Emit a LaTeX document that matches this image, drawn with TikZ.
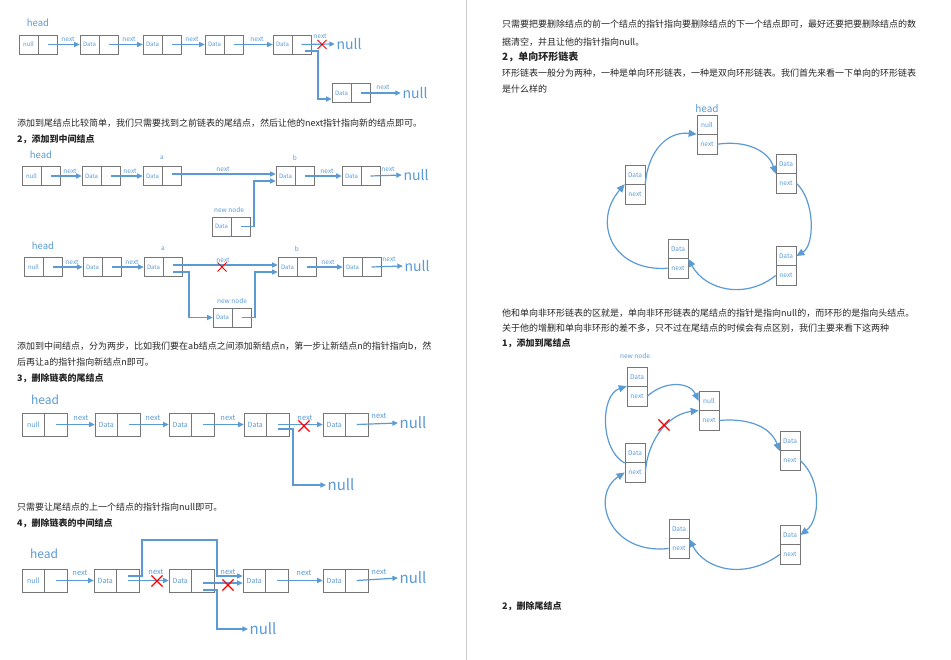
\documentclass[tikz,border=0pt]{standalone}
\usepackage{fontspec}
\setmainfont{Noto Sans CJK SC}
\usetikzlibrary{arrows.meta,shapes.misc}
\definecolor{lblue}{HTML}{5B9BD5}
\definecolor{boxc}{HTML}{767676}
\definecolor{txtc}{HTML}{262626}
\definecolor{xred}{HTML}{FF0000}
\tikzset{
  cs/.style={draw=boxc, line width=0.6pt, minimum width=19pt, minimum height=19pt, inner sep=0pt, text=lblue, font=\fontsize{6}{6}\selectfont},
  cb/.style={draw=boxc, line width=0.6pt, minimum width=22.5pt, minimum height=23pt, inner sep=0pt, text=lblue, font=\fontsize{7}{7}\selectfont},
  cv/.style={draw=boxc, line width=0.6pt, minimum width=20pt, minimum height=19.5pt, inner sep=0pt, text=lblue, font=\fontsize{6.5}{6.5}\selectfont},
  arr/.style={draw=lblue, line width=1.2pt, -{Triangle[length=5.5pt,width=5pt]}},
  arrc/.style={draw=lblue, line width=1.2pt, -{Triangle[length=8pt,width=7pt]}},
  lbl/.style={text=lblue, font=\fontsize{6.5}{6.5}\selectfont, inner sep=0pt},
  lblb/.style={text=lblue, font=\fontsize{7.5}{7.5}\selectfont, inner sep=0pt},
  headS/.style={text=lblue, font=\fontsize{9.5}{9.5}\selectfont, inner sep=0pt},
  headB/.style={text=lblue, font=\fontsize{12}{12}\selectfont, inner sep=0pt},
  nullS/.style={text=lblue, font=\fontsize{14}{14}\selectfont, inner sep=1.5pt},
  nullB/.style={text=lblue, font=\fontsize{15}{15}\selectfont, inner sep=1.5pt},
  body/.style={text=txtc, font=\fontsize{9}{9}\selectfont, anchor=west, inner sep=0pt},
  bodyb/.style={text=txtc, font=\fontsize{9}{9}\selectfont\bfseries, anchor=west, inner sep=0pt},
  xm/.style={draw=xred, cross out, minimum size=8pt, inner sep=0pt, line width=1pt},
  xmb/.style={draw=xred, cross out, minimum size=10pt, inner sep=0pt, line width=1.1pt}
}
\begin{document}
\begin{tikzpicture}[x=1pt,y=-1pt]
\fill[white] (0,0) rectangle (951,660);
\useasboundingbox (0,0) rectangle (951,660);
\draw[gray!40, line width=0.8pt] (466,0) -- (466,660);

% ---------- Diagram 1 ----------
\node[headS] (h1) at (38,23) {head};
\node[cs] (a1l) at (28.5,44.5) {null}; \node[cs] (a1r) at (47.5,44.5) {};
\node[cs] (a2l) at (89.5,44.5) {Data}; \node[cs] (a2r) at (108.5,44.5) {};
\node[cs] (a3l) at (152.5,44.5) {Data}; \node[cs] (a3r) at (171.5,44.5) {};
\node[cs] (a4l) at (214.5,44.5) {Data}; \node[cs] (a4r) at (233.5,44.5) {};
\node[cs] (a5l) at (282.5,44.5) {Data}; \node[cs] (a5r) at (301.5,44.5) {};
\node[cs] (a6l) at (341.5,93) {Data}; \node[cs] (a6r) at (360.5,93) {};
\node[nullS] (a0) at (349,44) {null};
\node[nullS] (a7) at (415,93) {null};
\draw[arr] (a1r.center) -- (a2l.west);
\draw[arr] (a2r.center) -- (a3l.west);
\draw[arr] (a3r.center) -- (a4l.west);
\draw[arr] (a4r.center) -- (a5l.west);
\draw[arr] (a5r.center) -- (a0.west);
\coordinate (a5s) at (305,51);
\draw[arr] (a5s) -- (318,51) |- ([yshift=-6pt]a6l.west);
\draw[arr] (a6r.center) -- (a7.west);
\node[xm] (ax) at (322,44.5) {};
\node[lbl] (an1) at (68,39) {next};
\node[lbl] (an2) at (129,39) {next};
\node[lbl] (an3) at (192,39) {next};
\node[lbl] (an4) at (257,39) {next};
\node[lbl] (an5) at (320,36) {next};
\node[lbl] (an6) at (383,87) {next};

\node[body] (t1) at (17,123) {添加到尾结点比较简单，我们只需要找到之前链表的尾结点，然后让他的next指针指向新的结点即可。};
\node[bodyb] (t2) at (17,139) {2，添加到中间结点};

% ---------- Diagram 2 ----------
\node[headS] (h2) at (41,155) {head};
\node[cs] (b1l) at (31.5,176) {null}; \node[cs] (b1r) at (50.5,176) {};
\node[cs] (b2l) at (91.5,176) {Data}; \node[cs] (b2r) at (110.5,176) {};
\node[cs] (bal) at (152.5,176) {Data}; \node[cs] (bar) at (171.5,176) {};
\node[cs] (bbl) at (285.5,176) {Data}; \node[cs] (bbr) at (304.5,176) {};
\node[cs] (b5l) at (351.5,176) {Data}; \node[cs] (b5r) at (370.5,176) {};
\node[cs] (bnl) at (221.5,226.5) {Data}; \node[cs] (bnr) at (240.5,226.5) {};
\node[lbl] (ba) at (162,158) {a};
\node[lbl] (bb) at (295,158) {b};
\node[lbl] (bnn) at (229,210) {new node};
\node[nullS] (b6) at (416,175) {null};
\draw[arr] (b1r.center) -- (b2l.west);
\draw[arr] (b2r.center) -- (bal.west);
\draw[arr] ([yshift=2pt]bar.center) -- ([yshift=2pt]bbl.west);
\draw[arr] (bnr.center) -- (254,226.5) |- ([yshift=-5pt]bbl.west);
\draw[arr] (bbr.center) -- (b5l.west);
\draw[arr] (b5r.center) -- (b6.west);
\node[lbl] (bn1) at (70,171) {next};
\node[lbl] (bn2) at (130,171) {next};
\node[lbl] (bn3) at (223,169) {next};
\node[lbl] (bn4) at (327,171) {next};
\node[lbl] (bn5) at (388,169) {next};

% ---------- Diagram 3 ----------
\node[headS] (h3) at (43,246) {head};
\node[cs] (c1l) at (33.5,267) {null}; \node[cs] (c1r) at (52.5,267) {};
\node[cs] (c2l) at (92.5,267) {Data}; \node[cs] (c2r) at (111.5,267) {};
\node[cs] (cal) at (153.5,267) {Data}; \node[cs] (car) at (172.5,267) {};
\node[cs] (cbl) at (287.5,267) {Data}; \node[cs] (cbr) at (306.5,267) {};
\node[cs] (c5l) at (352.5,267) {Data}; \node[cs] (c5r) at (371.5,267) {};
\node[cs] (cnl) at (222.5,317.5) {Data}; \node[cs] (cnr) at (241.5,317.5) {};
\node[lbl] (ca) at (163,249) {a};
\node[lbl] (cb) at (297,249) {b};
\node[lbl] (cnn) at (232,301) {new node};
\node[nullS] (c6) at (417,266) {null};
\draw[arr] (c1r.center) -- (c2l.west);
\draw[arr] (c2r.center) -- (cal.west);
\draw[arr] ([yshift=2pt]car.center) -- ([yshift=2pt]cbl.west);
\draw[arr] ([yshift=-5pt]car.center) -- (189,272) |- (cnl.west);
\draw[arr] (cnr.center) -- (255,317.5) |- ([yshift=-5pt]cbl.west);
\draw[arr] (cbr.center) -- (c5l.west);
\draw[arr] (c5r.center) -- (c6.west);
\node[lbl] (cn1) at (72,262) {next};
\node[lbl] (cn2) at (132,262) {next};
\node[lbl] (cn3) at (223,260) {next};
\node[lbl] (cn4) at (328,262) {next};
\node[lbl] (cn5) at (389,259) {next};
\node[xm] (cx) at (222,267) {};

\node[body] (t3) at (17,346) {添加到中间结点，分为两步，比如我们要在ab结点之间添加新结点n，第一步让新结点n的指针指向b，然};
\node[body] (t4) at (17,362) {后再让a的指针指向新结点n即可。};
\node[bodyb] (t5) at (17,378) {3，删除链表的尾结点};

% ---------- Diagram 4 ----------
\node[headB] (h4) at (45,400) {head};
\node[cb] (d1l) at (33.25,424.5) {null}; \node[cb] (d1r) at (55.75,424.5) {};
\node[cb] (d2l) at (106.25,424.5) {Data}; \node[cb] (d2r) at (128.75,424.5) {};
\node[cb] (d3l) at (180.25,424.5) {Data}; \node[cb] (d3r) at (202.75,424.5) {};
\node[cb] (d4l) at (255.25,424.5) {Data}; \node[cb] (d4r) at (277.75,424.5) {};
\node[cb] (d5l) at (334.25,424.5) {Data}; \node[cb] (d5r) at (356.75,424.5) {};
\node[nullB] (d6) at (413,423) {null};
\node[nullB] (dn) at (341,485) {null};
\draw[arr] (d1r.center) -- (d2l.west);
\draw[arr] (d2r.center) -- (d3l.west);
\draw[arr] (d3r.center) -- (d4l.west);
\draw[arr] (d4r.center) -- (d5l.west);
\draw[arr] ([yshift=-4.5pt]d4r.center) -- (293,429) |- (dn.west);
\draw[arr] (d5r.center) -- (d6.west);
\node[lblb] (dl1) at (81,418) {next};
\node[lblb] (dl2) at (153,418) {next};
\node[lblb] (dl3) at (228,418) {next};
\node[lblb] (dl4) at (305,418) {next};
\node[lblb] (dl5) at (379,416) {next};
\node[xmb] (dx) at (304,426) {};

\node[body] (t6) at (17,507) {只需要让尾结点的上一个结点的指针指向null即可。};
\node[bodyb] (t7) at (17,523) {4，删除链表的中间结点};

% ---------- Diagram 5 ----------
\node[headB] (h5) at (44,554) {head};
\node[cb] (e1l) at (33.25,580.5) {null}; \node[cb] (e1r) at (55.75,580.5) {};
\node[cb] (e2l) at (105.25,580.5) {Data}; \node[cb] (e2r) at (127.75,580.5) {};
\node[cb] (e3l) at (180.25,580.5) {Data}; \node[cb] (e3r) at (202.75,580.5) {};
\node[cb] (e4l) at (254.25,580.5) {Data}; \node[cb] (e4r) at (276.75,580.5) {};
\node[cb] (e5l) at (334.25,580.5) {Data}; \node[cb] (e5r) at (356.75,580.5) {};
\node[nullB] (e6) at (413,578) {null};
\node[nullB] (en) at (263,629) {null};
\draw[arr] (e1r.center) -- (e2l.west);
\draw[arr] ([yshift=4.5pt]e2r.center) -- (142,576) |- (217,540) |- ([yshift=4.5pt]e4l.west);
\draw[arr] (e2r.center) -- (e3l.west);
\draw[arr] ([yshift=-2.5pt]e3r.center) -- ([yshift=-2.5pt]e4l.west);
\draw[arr] ([yshift=-9.5pt]e3r.center) -- (217,590) |- (en.west);
\draw[arr] (e4r.center) -- (e5l.west);
\draw[arr] (e5r.center) -- (e6.west);
\node[lblb] (el1) at (80,573) {next};
\node[lblb] (el2) at (156,572) {next};
\node[lblb] (el3) at (228,572) {next};
\node[lblb] (el4) at (304,573) {next};
\node[lblb] (el5) at (379,572) {next};
\node[xmb] (ex1) at (157,581) {};
\node[xmb] (ex2) at (228,585) {};

% ---------- Right page text ----------
\node[body] (r1) at (502,24) {只需要把要删除结点的前一个结点的指针指向要删除结点的下一个结点即可，最好还要把要删除结点的数};
\node[body] (r2) at (502,42) {据清空，并且让他的指针指向null。};
\node[bodyb, font=\fontsize{10}{10}\selectfont\bfseries] (r3) at (502,57) {2，单向环形链表};
\node[body] (r4) at (502,73) {环形链表一般分为两种，一种是单向环形链表，一种是双向环形链表。我们首先来看一下单向的环形链表};
\node[body] (r5) at (502,89) {是什么样的};

% ---------- Circle 1 ----------
\node[headS, font=\fontsize{10}{10}\selectfont] (fh) at (707,109) {head};
\node[cv] (f1t) at (707,124.75) {null}; \node[cv] (f1b) at (707,144.25) {next};
\node[cv] (f2t) at (786,163.75) {Data}; \node[cv] (f2b) at (786,183.25) {next};
\node[cv] (f3t) at (786,256) {Data}; \node[cv] (f3b) at (786,275.5) {next};
\node[cv] (f4t) at (678,248.75) {Data}; \node[cv] (f4b) at (678,268.25) {next};
\node[cv] (f5t) at (635,174.75) {Data}; \node[cv] (f5b) at (635,194.25) {next};
\draw[arrc] (f5b.north east) .. controls (648,150) and (668,131) .. (f1b.north west);
\draw[arrc] (f1b.east) .. controls (745,140) and (768,150) .. (f2t.south west);
\draw[arrc] (f2b.east) .. controls (815,200) and (815,245) .. (f3t.east);
\draw[arrc] (f3b.west) .. controls (745,300) and (705,290) .. (f4t.south east);
\draw[arrc] (f4b.west) .. controls (612,272) and (592,222) .. (f5b.north west);

\node[body] (r6) at (502,313) {他和单向非环形链表的区就是，单向非环形链表的尾结点的指针是指向null的，而环形的是指向头结点。};
\node[body] (r7) at (502,328) {关于他的增删和单向非环形的差不多，只不过在尾结点的时候会有点区别，我们主要来看下这两种};
\node[bodyb] (r8) at (502,343) {1，添加到尾结点};

% ---------- Circle 2 ----------
\node[lbl] (gnn) at (635,356) {new node};
\node[cv] (g0t) at (637,376.75) {Data}; \node[cv] (g0b) at (637,396.25) {next};
\node[cv] (g1t) at (709,401) {null}; \node[cv] (g1b) at (709,420.5) {next};
\node[cv] (g2t) at (790,441) {Data}; \node[cv] (g2b) at (790,460.5) {next};
\node[cv] (g3t) at (790,535) {Data}; \node[cv] (g3b) at (790,554.5) {next};
\node[cv] (g4t) at (679,529) {Data}; \node[cv] (g4b) at (679,548.5) {next};
\node[cv] (g5t) at (635,453) {Data}; \node[cv] (g5b) at (635,472.5) {next};
\draw[arrc] (g0b.east) .. controls (665,380) and (690,382) .. (g1t.west);
\draw[arrc] (g5b.east) .. controls (648,437) and (670,414) .. (g1b.north west);
\draw[arrc] (g5t.south west) .. controls (600,450) and (600,395) .. (g0b.north west);
\draw[arrc] (g1b.east) .. controls (745,418) and (770,425) .. (g2t.south west);
\draw[arrc] (g2b.east) .. controls (822,480) and (820,520) .. (g3t.east);
\draw[arrc] (g3b.west) .. controls (745,580) and (705,570) .. (g4t.south east);
\draw[arrc] (g4b.west) .. controls (608,555) and (590,495) .. (g5b.west);
\node[xmb] (gx) at (664,425) {};

\node[bodyb] (r9) at (502,606) {2，删除尾结点};
\end{tikzpicture}
\end{document}
